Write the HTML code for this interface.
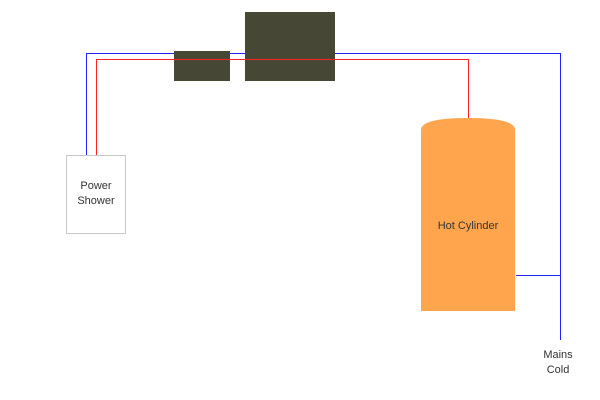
<!DOCTYPE html>
<html><head><style>body{margin:0;background:#fff}svg{display:block}</style></head><body>
<svg width="600" height="400" xmlns="http://www.w3.org/2000/svg" font-family="Liberation Sans, sans-serif">
<polyline points="86.5,155 86.5,53.5 560.5,53.5 560.5,340" fill="none" stroke="#2222ff" stroke-width="1"/>
<line x1="516" y1="275.5" x2="560" y2="275.5" stroke="#2222ff" stroke-width="1"/>
<rect x="174" y="51" width="56" height="30" fill="#474736"/>
<rect x="245" y="12" width="90" height="69" fill="#474736"/>
<polyline points="96.5,155 96.5,59.5 468.5,59.5 468.5,118" fill="none" stroke="#ff2222" stroke-width="1"/>
<rect x="66.5" y="155.5" width="59" height="78" fill="#fff" stroke="#c8c8c8" stroke-width="1"/>
<text x="96" y="189" font-size="11" text-anchor="middle" fill="#333">Power</text>
<text x="96" y="204" font-size="11" text-anchor="middle" fill="#333">Shower</text>
<path d="M421,130 Q421,118 468,118 Q515,118 515,130 L515,311 L421,311 Z" fill="#ffa54d"/>
<text x="468" y="229" font-size="11" text-anchor="middle" fill="#333">Hot Cylinder</text>
<text x="558" y="358" font-size="11" text-anchor="middle" fill="#333">Mains</text>
<text x="558" y="373" font-size="11" text-anchor="middle" fill="#333">Cold</text>
</svg>
</body></html>
